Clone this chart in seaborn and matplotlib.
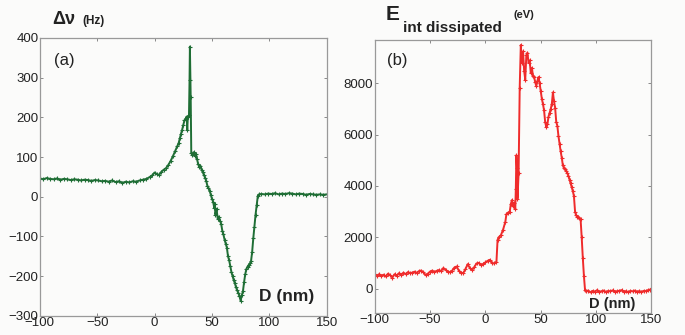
import matplotlib
matplotlib.use("Agg")
import matplotlib.pyplot as plt
import seaborn as sns

# (a) frequency shift vs distance
dist_a = [-100, -97, -94, -91, -88, -85, -82, -79, -76, -73, -70, -67, -64, -61, -58, -55,
          -52, -49, -46, -43, -40, -37, -34, -31, -28, -25, -22, -19, -16, -13, -10, -7,
          -4, -2, 0, 2, 4, 6, 8, 10, 12, 14, 16, 18, 20, 21, 22, 23, 24, 25, 26, 27, 28,
          28.5, 29, 30, 30.5, 30.8, 31.5, 32, 33, 34, 35, 36, 37, 38, 39, 40, 41, 42, 43,
          44, 45, 46, 47, 48, 49, 50, 51, 52, 52.5, 53, 54, 55, 56, 57, 58, 59, 60, 61, 62,
          63, 64, 65, 66, 67, 68, 69, 70, 71, 72, 73, 74, 75, 76, 77, 78, 79, 80, 81, 82,
          83, 84, 85, 86, 87, 88, 89, 90, 91, 93, 96, 99, 102, 105, 108, 111, 114, 117,
          120, 123, 126, 129, 132, 135, 138, 141, 144, 147, 150]
dnu = [46, 44, 47, 45, 44, 46, 43, 45, 44, 42, 44, 43, 41, 43, 42, 40,
       42, 41, 39, 40, 38, 41, 37, 39, 35, 38, 36, 39, 38, 41, 43, 45,
       50, 54, 61, 57, 55, 63, 68, 72, 80, 90, 102, 115, 128, 135, 147, 158, 168, 180, 192, 196, 202,
       168, 200, 205, 295, 378, 250, 110, 105, 112, 103, 108, 95, 82, 75, 78, 68, 62, 55,
       48, 40, 28, 22, 15, 5, -5, -12, -28, -18, -45, -30, -55, -50, -60, -68, -85, -95, -108, -118,
       -128, -150, -160, -175, -190, -200, -210, -218, -228, -236, -242, -250, -262, -248, -238, -215, -195, -182, -176, -172,
       -168, -163, -140, -105, -75, -45, -20, 3, 6, 7, 6, 8, 7, 9, 6, 8, 7, 9,
       8, 6, 8, 7, 5, 7, 6, 5, 6, 5, 6]

# (b) dissipated energy vs distance
dist_b = [-100, -98, -96, -94, -92, -90, -88, -86, -84, -82, -80, -78, -76, -74, -72, -70,
          -68, -66, -64, -62, -60, -58, -56, -54, -52, -50, -48, -46, -44, -42, -40, -38,
          -36, -34, -32, -30, -28, -26, -24, -22, -20, -18, -16, -14, -12, -10, -8, -6,
          -4, -2, 0, 2, 4, 6, 8, 10, 11, 12, 14, 16, 18, 19, 20, 22, 23, 24, 25, 26, 27,
          27.5, 28, 28.5, 29, 30, 31, 32, 33, 34, 35, 36, 37, 38, 39, 40, 41, 42, 43, 44,
          45, 46, 47, 48, 49, 50, 51, 52, 53, 54, 55, 56, 57, 58, 59, 60, 61, 62, 63, 64,
          65, 66, 67, 68, 69, 70, 71, 72, 73, 74, 75, 76, 77, 78, 79, 80, 81, 82, 83, 84,
          85, 86, 87, 88, 89, 90, 91, 93, 95, 97, 99, 101, 103, 105, 107, 109, 111, 113,
          115, 117, 119, 121, 123, 125, 127, 129, 131, 133, 135, 137, 139, 141, 143, 145,
          147, 149, 150]
e_diss = [550, 480, 560, 500, 540, 470, 580, 520, 430, 560, 500, 600, 540, 620, 560, 640,
          600, 620, 660, 610, 680, 700, 640, 520, 580, 660, 700, 650, 690, 720, 680, 800,
          740, 650, 640, 700, 820, 860, 700, 620, 600, 760, 950, 800, 720, 840, 980, 1000,
          920, 960, 1020, 1080, 1120, 1000, 980, 1050, 1900, 2000, 2080, 2300, 2600, 2900, 2950, 3000, 3300, 3450, 3200, 3350, 3100,
          3900, 5200, 4700, 3500, 4500, 7840, 9500, 8800, 9250, 8500, 8150, 9100, 9200, 8800, 8900, 8400, 8600, 8300, 8250,
          8050, 7900, 8100, 8250, 8000, 7700, 7400, 7200, 6950, 6500, 6300, 6400, 6700, 6850, 7000, 7200, 7650, 7300, 7050, 6500,
          6350, 5950, 5650, 5350, 5100, 4800, 4700, 4650, 4600, 4500, 4400, 4250, 4100, 3950, 3800, 3600, 3000, 2850, 2800, 2780,
          2750, 2700, 2000, 1200, 500, -50, -100, -80, -150, -90, -120, -60, -130, -100, -80, -140, -90, -110,
          -70, -130, -100, -90, -60, -120, -100, -140, -90, -110, -80, -120, -100, -130, -90, -100,
          -60, -40, 0]

x_ticks = [-100, -50, 0, 50, 100, 150]
bg = "#fbfbfa"
green = "#1f6e35"
red = "#ef2b2b"

sns.set_style("ticks")
plt.rcParams["font.family"] = ["Liberation Sans", "DejaVu Sans"]

fig = plt.figure(figsize=(6.85, 3.35), dpi=100, facecolor=bg)
ax1 = fig.add_axes([0.058, 0.057, 0.419, 0.830])
ax2 = fig.add_axes([0.547, 0.066, 0.404, 0.815])

# markeredgecolor must match, seaborn defaults it to white
sns.lineplot(x=dist_a, y=dnu, ax=ax1, color=green, lw=1.4, marker="+", markersize=3.5,
             markeredgewidth=0.8, markeredgecolor=green, estimator=None, sort=False)
sns.lineplot(x=dist_b, y=e_diss, ax=ax2, color=red, lw=1.4, marker="+", markersize=3.5,
             markeredgewidth=0.8, markeredgecolor=red, estimator=None, sort=False)

ax1.set_xlim(-100, 150)
ax1.set_ylim(-300, 400)
ax1.set_yticks([-300, -200, -100, 0, 100, 200, 300, 400])
ax2.set_xlim(-100, 150)
ax2.set_ylim(-950, 9700)
ax2.set_yticks([0, 2000, 4000, 6000, 8000])

for ax in (ax1, ax2):
    ax.set_facecolor(bg)
    ax.set_xticks(x_ticks)
    ax.set_xlabel("")
    ax.set_ylabel("")
    ax.tick_params(direction="in", length=2.5, width=0.6, color="#777777",
                   top=True, right=True, labelsize=9.5, pad=1, labelcolor="#222222")
    for s in ax.spines.values():
        s.set_visible(True)
        s.set_color("#999999")
        s.set_linewidth(0.9)

ax1.text(64 / 685, 1 - 61 / 335, "(a)", transform=fig.transFigure, fontsize=12,
         ha="center", va="center", color="#222222")
ax2.text(397 / 685, 1 - 61 / 335, "(b)", transform=fig.transFigure, fontsize=12,
         ha="center", va="center", color="#222222")

fig.text(287 / 685, 1 - 296 / 335, "D (nm)", fontsize=12.5, fontweight="bold",
         ha="center", va="center", color="#222222")
fig.text(612 / 685, 1 - 304 / 335, "D (nm)", fontsize=10.5, fontweight="bold",
         ha="center", va="center", color="#222222")

# panel titles
fig.text(52 / 685, 1 - 20 / 335, "\u0394\u03bd", fontsize=13, fontweight="bold",
         ha="left", va="center", color="#222222")
fig.text(82 / 685, 1 - 21 / 335, "(Hz)", fontsize=8.5, fontweight="bold",
         ha="left", va="center", color="#222222")
fig.text(386 / 685, 1 - 14 / 335, "E", fontsize=15, fontweight="bold",
         ha="left", va="center", color="#222222")
fig.text(403 / 685, 1 - 28 / 335, "int dissipated", fontsize=11, fontweight="bold",
         ha="left", va="center", color="#222222")
fig.text(514 / 685, 1 - 15 / 335, "(eV)", fontsize=8, fontweight="bold",
         ha="left", va="center", color="#222222")

fig.savefig("out.png", dpi=100, facecolor=bg)
